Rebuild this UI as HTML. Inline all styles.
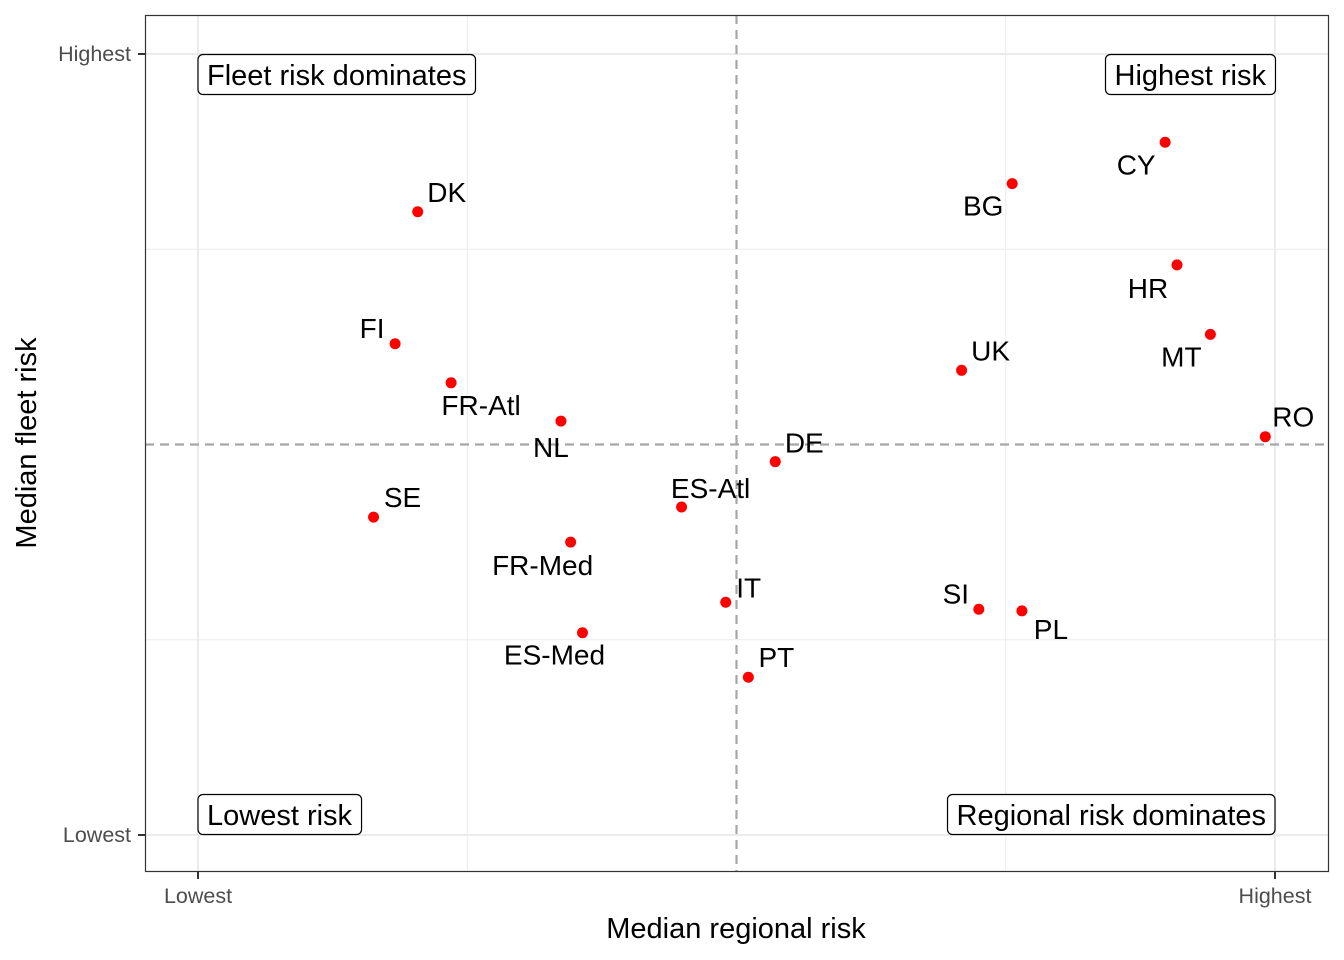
<!DOCTYPE html>
<html><head><meta charset="utf-8"><style>
html,body{margin:0;padding:0;background:#fff;}
svg{display:block;font-family:"Liberation Sans",Arial,sans-serif;}
</style></head><body>
<svg id="chart" width="1344" height="960" viewBox="0 0 1344 960">
<g id="grid"></g>
<g id="marks"></g>
<g id="annot"></g>
<rect x="145.5" y="15.5" width="1183" height="856" fill="none" stroke="#333" stroke-width="1.2"/>
<g id="axes"></g>
<text x="736" y="938" font-size="29" text-anchor="middle" fill="#000">Median regional risk</text>
<text transform="translate(36,443) rotate(-90)" font-size="29" text-anchor="middle" fill="#000">Median fleet risk</text>
</svg>
<script>
const countries = ["DK","FI","FR-Atl","NL","SE","FR-Med","ES-Med","ES-Atl","IT","PT","DE","UK","BG","CY","HR","MT","RO","SI","PL"];
const regionalRisk = [0.204,0.183,0.235,0.337,0.163,0.346,0.357,0.449,0.490,0.511,0.536,0.709,0.756,0.898,0.909,0.940,0.991,0.725,0.765];
const fleetRisk = [0.798,0.629,0.579,0.530,0.407,0.375,0.259,0.420,0.298,0.202,0.478,0.595,0.834,0.887,0.730,0.641,0.510,0.289,0.287];
const tickLabels = ["Lowest","Highest"];
const labelDx = [29,-23,30,-10,29,-28,-28,29,23,28,29,29,-29,-29,-29,-29,28,-23,29];
const labelDy = [-20,-16,22,26,-20,23,22,-19,-15,-20,-19,-20,22,22,23,22,-20,-16,18];

const X = v => 198 + v*1077;
const Y = v => 835 - v*781;
const NS = "http://www.w3.org/2000/svg";
function mk(tag, attrs, parent){const e=document.createElementNS(NS,tag);for(const k in attrs)e.setAttribute(k,attrs[k]);parent.appendChild(e);return e;}

const grid=document.getElementById('grid');
[0,0.25,0.75,1].forEach(v=>{
  const l=mk('line',{x1:X(v),x2:X(v),y1:15,y2:872,stroke:'#ebebeb','stroke-width':v%0.5===0?2:1},grid);
  
  
  const m=mk('line',{y1:Y(v),y2:Y(v),x1:145,x2:1329,stroke:'#ebebeb','stroke-width':v%0.5===0?2:1},grid);
  
  
});
const vd=mk('line',{x1:X(0.5),x2:X(0.5),y1:15,y2:872,stroke:'#a6a6a6','stroke-width':2.2,'stroke-dasharray':'9,6'},grid);


const hd=mk('line',{y1:Y(0.5),y2:Y(0.5),x1:145,x2:1329,stroke:'#a6a6a6','stroke-width':2.2,'stroke-dasharray':'9,6'},grid);



const marks=document.getElementById('marks');
countries.forEach((c,i)=>{
  const x=X(regionalRisk[i]), y=Y(fleetRisk[i]);
  const p=mk('circle',{cx:x,cy:y,r:5.5,fill:'#ff0000'},marks);
  
  
  const t=mk('text',{x:x+labelDx[i],y:y+labelDy[i]+10,'font-size':28,'text-anchor':'middle',fill:'#000'},marks);
  t.textContent=c;
  
  
});

const annot=document.getElementById('annot');
const boxes=[["Fleet risk dominates",198,54,'start'],["Highest risk",1275,54,'end'],["Lowest risk",198,794,'start'],["Regional risk dominates",1275,794,'end']];
boxes.forEach(b=>{
  const g=mk('g',{},annot);
  
  
  const t=mk('text',{x:b[3]==='start'?b[1]+9:b[1]-9,y:b[2]+31,'font-size':29,'text-anchor':b[3],fill:'#000'},g);
  t.textContent=b[0];
  const bb=t.getBBox();
  const r=mk('rect',{x:bb.x-9,y:b[2]+0.5,width:bb.width+18,height:40,rx:5,fill:'#fff',stroke:'#000','stroke-width':1.2},g);
  g.insertBefore(r,t);
});

const axes=document.getElementById('axes');
[0,1].forEach((v,i)=>{
  mk('line',{x1:X(v),x2:X(v),y1:872,y2:879,stroke:'#333','stroke-width':2},axes);
  const tx=mk('text',{x:X(v),y:903,'font-size':21.5,'text-anchor':'middle',fill:'#4d4d4d'},axes);
  tx.textContent=tickLabels[i];
  
  
  mk('line',{y1:Y(v),y2:Y(v),x1:138,x2:145,stroke:'#333','stroke-width':2},axes);
  const ty=mk('text',{x:131,y:Y(v)+7,'font-size':21.5,'text-anchor':'end',fill:'#4d4d4d'},axes);
  ty.textContent=tickLabels[i];
  
  
});
</script>
</body></html>
